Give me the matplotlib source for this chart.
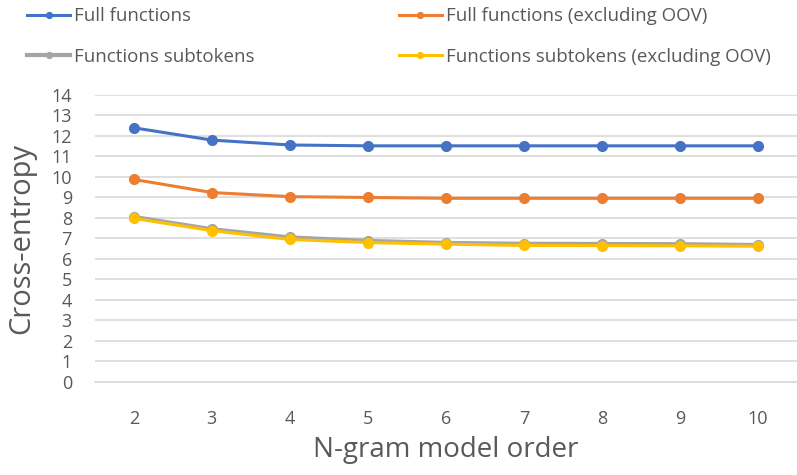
import matplotlib.pyplot as plt

plt.rcParams.update({
    'font.family': ['Open Sans', 'DejaVu Sans'],
    'text.color': '#595959',
    'axes.labelcolor': '#595959',
    'xtick.color': '#595959',
    'ytick.color': '#595959',
})

orders = ['2', '3', '4', '5', '6', '7', '8', '9', '10']
full_functions = [12.4, 11.8, 11.56, 11.52, 11.52, 11.52, 11.52, 11.52, 11.52]
full_no_oov = [9.88, 9.24, 9.04, 9.0, 8.96, 8.96, 8.96, 8.96, 8.96]
subtokens = [8.05, 7.45, 7.05, 6.88, 6.78, 6.74, 6.73, 6.72, 6.68]
subtokens_no_oov = [7.98, 7.38, 6.95, 6.8, 6.72, 6.66, 6.65, 6.64, 6.62]

series = [
    ('Full functions', full_functions, '#4472C4', 2.2),
    ('Functions subtokens', subtokens, '#A5A5A5', 3.0),
    ('Full functions (excluding OOV)', full_no_oov, '#ED7D31', 2.2),
    ('Functions subtokens (excluding OOV)', subtokens_no_oov, '#FFC000', 2.2),
]

fig = plt.figure(figsize=(7.97, 4.75), dpi=100)
ax = fig.add_axes([0.119, 0.196, 0.881, 0.604])

x = range(len(orders))
handles = []
for label, vals, color, lw in series:
    h, = ax.plot(x, vals, color=color, linewidth=lw, marker='o', markersize=7,
                 label=label, zorder=3)
    handles.append(h)

ax.set_xlim(-0.5, len(orders) - 0.5)
ax.set_ylim(0, 14)
ax.set_yticks(range(0, 15))
ax.set_xticks(list(x))
ax.set_xticklabels(orders)
ax.tick_params(axis='both', length=0, labelsize=13)
ax.tick_params(axis='x', pad=20)
ax.tick_params(axis='y', pad=16.5)
ax.grid(axis='y', color='#D9D9D9', linewidth=1.2)
ax.set_axisbelow(True)
for s in ['top', 'right', 'left']:
    ax.spines[s].set_visible(False)
ax.spines['bottom'].set_color('#D9D9D9')
ax.spines['bottom'].set_linewidth(1.2)

ax.set_xlabel('N-gram model order', fontsize=20, labelpad=6)
ax.set_ylabel('Cross-entropy', fontsize=21, labelpad=11)

fig.legend(handles=handles, loc='upper left', bbox_to_anchor=(27 / 797, 0.985),
           borderaxespad=0, borderpad=0,
           ncol=2, frameon=False, fontsize=13.5, handlelength=2.3,
           handletextpad=0.2, columnspacing=7.7, labelspacing=1.2,
           markerscale=0.6)

plt.savefig('out.png', dpi=100)
